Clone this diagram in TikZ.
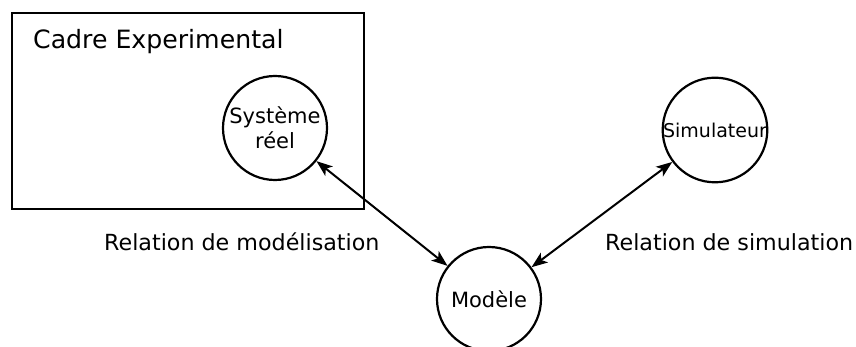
\documentclass[tikz,border=0pt]{standalone}
\usepackage{fontspec}
\setmainfont{DejaVu Sans}
\usetikzlibrary{arrows.meta}
\begin{document}
\begin{tikzpicture}[x=1pt,y=-1pt,
  circ/.style={draw,circle,line width=2.2pt,minimum size=104pt,inner sep=0pt,align=center,font=\fontsize{21}{25}\selectfont},
  rel/.style={line width=2pt,{Stealth[length=16pt,width=12pt,inset=4pt]}-{Stealth[length=16pt,width=12pt,inset=4pt]}},
  lab/.style={font=\fontsize{22.2}{27}\selectfont,anchor=west,inner sep=0pt}]
\useasboundingbox (0,0) rectangle (856,347);
\clip (0,0) rectangle (856,347);
\node[draw,line width=2.2pt,minimum width=352pt,minimum height=196pt,anchor=north west,inner sep=0pt] (cadre) at (11,12) {};
\node[lab,font=\fontsize{25.2}{30}\selectfont] (cadrelab) at (33,42) {Cadre Experimental};
\node[circ] (sys) at (275,128) {Système\\réel};
\node[circ] (mod) at (489,299) {Modèle};
\node[circ,font=\fontsize{19}{23}\selectfont] (sim) at (715,130) {Simulateur};
\draw[rel] (sys) -- (mod);
\draw[rel] (sim) -- (mod);
\node[lab] (l1) at (104,242) {Relation de modélisation};
\node[lab] (l2) at (605,242) {Relation de simulation};
\end{tikzpicture}
\end{document}
